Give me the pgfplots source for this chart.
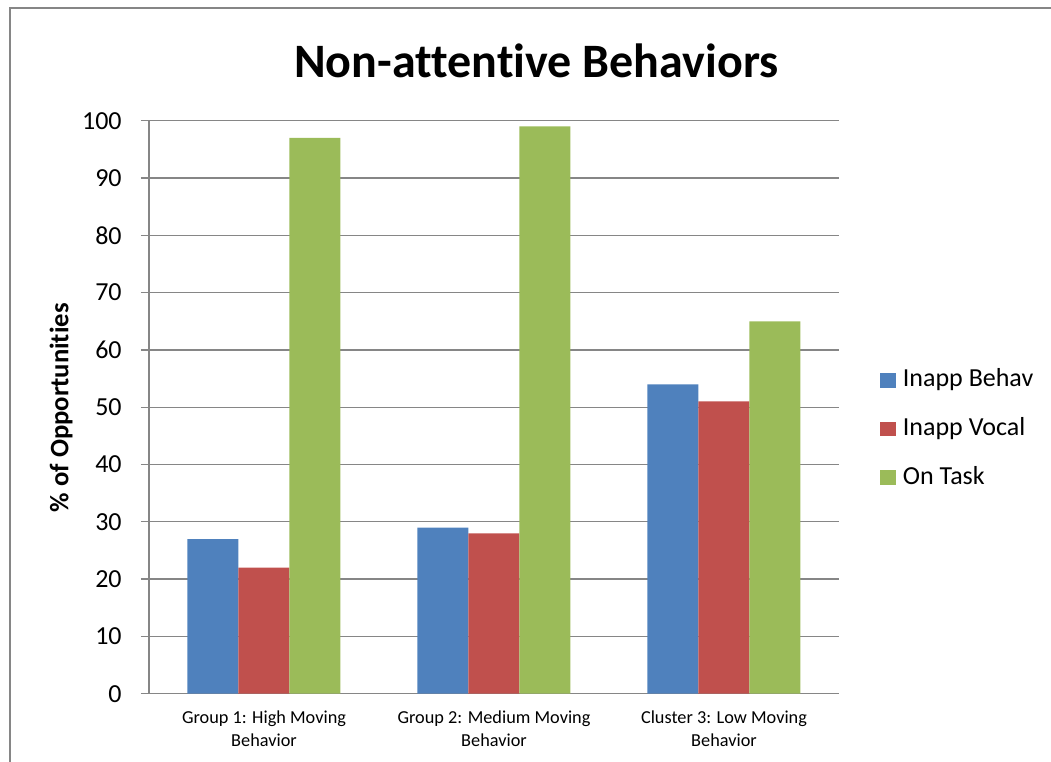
\documentclass[border=0pt]{standalone}
\usepackage{fontspec}
\setmainfont{Carlito}[Ligatures={NoCommon}]
\usepackage{pgfplots}
\pgfplotsset{compat=1.18}
\definecolor{cblue}{HTML}{4F81BD}
\definecolor{cred}{HTML}{C0504D}
\definecolor{cgreen}{HTML}{9BBB59}
\definecolor{cgrid}{HTML}{868686}
\pgfplotsset{sqlegend/.style={legend image code/.code={\fill[##1] (0pt,-5.5pt) rectangle (11.5pt,5.5pt);}}}
\begin{document}
\begin{tikzpicture}
\useasboundingbox (-111.75pt,-51.2pt) rectangle (676.5pt,520.3pt);
\begin{axis}[
 scale only axis, width=517.5pt, height=429.75pt,
 at={(0pt,0pt)}, anchor=south west,
 xmin=-0.5, xmax=2.5, ymin=0, ymax=100,
 ybar=0pt, bar width=38.25pt,
 axis x line*=bottom, axis y line*=left,
 axis line style={-, cgrid, line width=1pt},
 xtick={0,1,2},
 xticklabels={{Group 1: High Moving\\Behavior},{Group 2: Medium Moving\\Behavior},{Cluster 3: Low Moving\\Behavior}},
 xticklabel style={align=center, font=\fontsize{13.7}{17.25}\selectfont, yshift=-3pt},
 x tick style={draw=none},
 ytick={0,10,...,100},
 yticklabel style={font=\fontsize{19.5}{23}\selectfont, xshift=-11pt},
 /pgf/number format/assume math mode=true,
 ymajorgrids, grid style={cgrid, line width=1pt},
 tick align=outside, major tick length=6pt, y tick style={cgrid, line width=1pt},
 legend style={at={(1.0594,0.462)}, anchor=west, draw=none, fill=none, inner sep=0pt,
   row sep=18.5pt, font=\fontsize{19.5}{23}\selectfont, cells={anchor=west},
   nodes={inner sep=0pt, text height=14pt, text depth=4pt},
   /tikz/every odd column/.append style={column sep=5.5pt}},
]
\addplot[fill=cblue, draw=none, sqlegend] coordinates {(0,27) (1,29) (2,54)};
\addplot[fill=cred, draw=none, sqlegend] coordinates {(0,22) (1,28) (2,51)};
\addplot[fill=cgreen, draw=none, sqlegend] coordinates {(0,97) (1,99) (2,65)};
\legend{Inapp Behav, Inapp Vocal, On Task}
\end{axis}
\node[font=\bfseries\fontsize{36}{42}\selectfont] at (290.5pt,474.5pt) {Non-attentive Behaviors};
\node[rotate=90, font=\bfseries\fontsize{20}{24}\selectfont] at (-66pt,214.5pt) {\% of Opportunities};
\draw[cgrid, line width=1.2pt] (-104.25pt,-60pt) -- (-104.25pt,514.3pt) -- (690pt,514.3pt);
\end{tikzpicture}
\end{document}
